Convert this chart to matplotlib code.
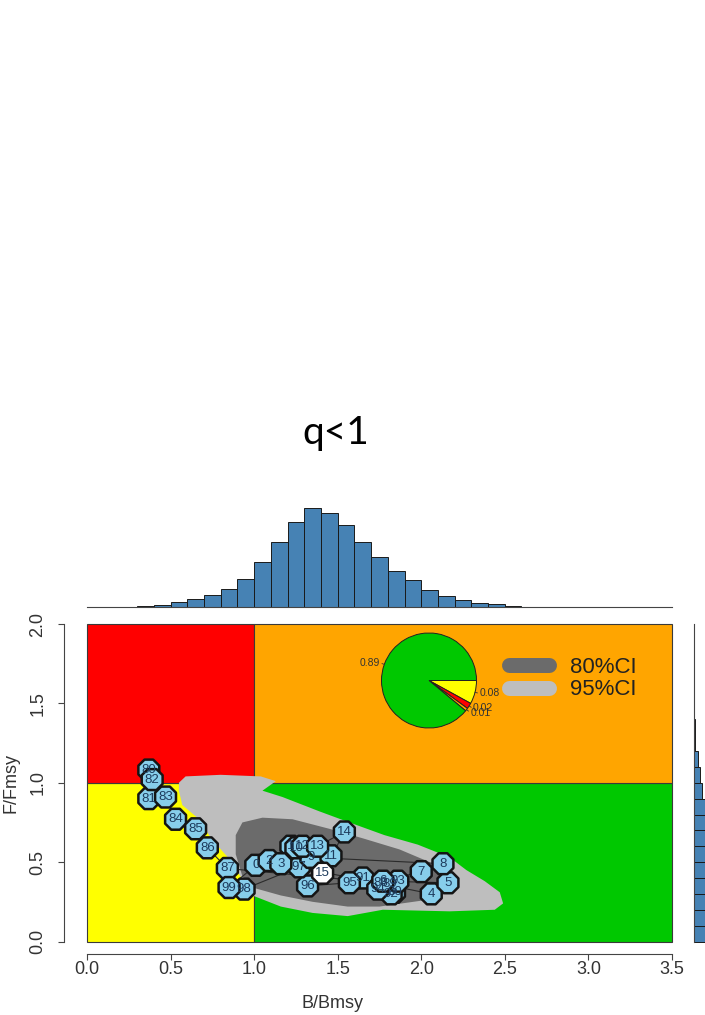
import matplotlib.pyplot as plt
from matplotlib.lines import Line2D
import numpy as np

plt.rcParams["font.family"] = ["Liberation Sans", "DejaVu Sans"]

# Kobe zones (B/Bmsy, F/Fmsy)
zone_b_left = [0, 0, 1, 1]
zone_b_width = [1, 1, 2.5, 2.5]
zone_f_bottom = [0, 1, 0, 1]
zone_f_height = [1, 1, 1, 1]
zone_colors = ["#FFFF00", "#FF0000", "#00C800", "#FFA500"]

# confidence regions
ci95_b = [0.55, 0.59, 0.80, 1.04, 1.13, 1.05, 1.17, 1.39, 1.57, 1.78, 1.98, 2.17, 2.27, 2.38,
          2.47, 2.49, 2.44, 2.17, 1.77, 1.56, 1.35, 1.16, 0.99, 0.93, 0.86, 0.75, 0.66, 0.57, 0.55]
ci95_f = [1.00, 1.04, 1.05, 1.04, 1.01, 0.95, 0.91, 0.82, 0.75, 0.67, 0.61, 0.53, 0.45, 0.38,
          0.31, 0.24, 0.20, 0.19, 0.20, 0.16, 0.18, 0.22, 0.29, 0.39, 0.51, 0.64, 0.78, 0.86, 0.95]
ci80_b = [0.93, 1.05, 1.23, 1.45, 1.65, 1.87, 2.05, 2.11, 2.10, 2.02, 1.75, 1.56, 1.35, 1.16,
          0.99, 0.93, 0.89, 0.89]
ci80_f = [0.75, 0.78, 0.77, 0.71, 0.65, 0.58, 0.50, 0.42, 0.32, 0.26, 0.22, 0.22, 0.25, 0.29,
          0.34, 0.41, 0.55, 0.67]
ci_labels = ["80%CI", "95%CI"]
ci_colors = ["#6B6B6B", "#BEBEBE"]

# stock trajectory 1980-2015
year_labels = ["80", "81", "82", "83", "84", "85", "86", "87", "88", "89",
               "90", "91", "92", "93", "94", "95", "96", "97", "98", "99",
               "0", "1", "2", "3", "4", "5", "6", "7", "8", "9",
               "10", "11", "12", "13", "14", "15"]
traj_b = [0.37, 0.37, 0.39, 0.47, 0.53, 0.65, 0.72, 0.84, 1.76, 1.81,
          1.84, 1.65, 1.82, 1.86, 1.74, 1.57, 1.32, 1.27, 0.94, 0.85,
          1.01, 1.22, 1.09, 1.16, 2.06, 2.16, 1.77, 2.00, 2.13, 1.34,
          1.25, 1.46, 1.29, 1.38, 1.54, 1.41]
traj_f = [1.08, 0.90, 1.02, 0.91, 0.77, 0.71, 0.59, 0.46, 0.37, 0.36,
          0.31, 0.40, 0.30, 0.38, 0.33, 0.37, 0.35, 0.47, 0.33, 0.34,
          0.48, 0.60, 0.51, 0.49, 0.30, 0.37, 0.38, 0.44, 0.49, 0.53,
          0.59, 0.54, 0.60, 0.60, 0.69, 0.43]

# probability of final year in each quadrant
pie_vals = [0.08, 0.02, 0.01, 0.89]
pie_colors = ["#FFFF00", "#FF0000", "#FFA500", "#00C800"]

# marginal posteriors
hist_b_left = [0.3, 0.4, 0.5, 0.6, 0.7, 0.8, 0.9, 1.0, 1.1, 1.2, 1.3, 1.4, 1.5, 1.6,
               1.7, 1.8, 1.9, 2.0, 2.1, 2.2, 2.3, 2.4, 2.5]
hist_b_counts = [3, 6, 13, 24, 36, 53, 82, 135, 195, 255, 295, 282, 245, 195,
                 148, 107, 80, 50, 33, 20, 10, 8, 3]
hist_f_bottom = [0.0, 0.1, 0.2, 0.3, 0.4, 0.5, 0.6, 0.7, 0.8, 0.9, 1.0, 1.1, 1.2, 1.3, 1.4]
hist_f_counts = [40, 120, 220, 290, 280, 230, 170, 110, 65, 24, 18, 12, 4, 2, 1]

x_ticks = [0.0, 0.5, 1.0, 1.5, 2.0, 2.5, 3.0, 3.5]
y_ticks = [0.0, 0.5, 1.0, 1.5, 2.0]

W, H = 705, 1015
fig = plt.figure(figsize=(W / 100, H / 100), dpi=100)
main_rect = [63.6 / W, (H - 954.2) / H, 631.7 / W, 342.9 / H]

# main kobe plot
ax = fig.add_axes(main_rect)
ax.bar(zone_b_left, zone_f_height, width=zone_b_width, bottom=zone_f_bottom, align="edge",
       color=zone_colors, edgecolor="#3a3a3a", linewidth=0.8, zorder=1)
ax.fill(ci95_b, ci95_f, color=ci_colors[1], lw=0, zorder=2)
ax.fill(ci80_b, ci80_f, color=ci_colors[0], lw=0, zorder=3)
ax.plot(traj_b, traj_f, color="#2b2b2b", lw=0.8, zorder=4)
pt_colors = ["#87CEEB"] * (len(traj_b) - 1) + ["white"]
ax.scatter(traj_b, traj_f, s=265, marker="8", c=pt_colors, edgecolors="#151515",
           linewidths=1.8, zorder=5)
for b, f, lab in zip(traj_b, traj_f, year_labels):
    ax.text(b, f, lab, fontsize=9.5, ha="center", va="center", color="#1d3b5c", zorder=6)

ax.set_xlim(-0.14, 3.64)
ax.set_ylim(-0.08, 2.08)
ax.set_xticks(x_ticks)
ax.set_xticklabels([f"{t:.1f}" for t in x_ticks])
ax.set_yticks(y_ticks)
ax.set_yticklabels([f"{t:.1f}" for t in y_ticks], rotation=90, va="center")
ax.tick_params(length=4, width=0.8, color="#444444", labelsize=13, labelcolor="#333333")
ax.tick_params(axis="x", pad=1)
ax.tick_params(axis="y", pad=8.5)
for s in ["top", "right"]:
    ax.spines[s].set_visible(False)
ax.spines["left"].set_bounds(0, 2)
ax.spines["bottom"].set_bounds(0, 3.5)
for s in ["left", "bottom"]:
    ax.spines[s].set_color("#444444")
    ax.spines[s].set_linewidth(0.8)
ax.set_xlabel("B/Bmsy", fontsize=13, color="#333333")
ax.set_ylabel("F/Fmsy", fontsize=13, color="#333333")
ax.xaxis.set_label_coords(0.4249, -0.119)
ax.yaxis.set_label_coords(-0.0706, 0.5)

handles = [Line2D([], [], color=c, lw=10.8, solid_capstyle="round") for c in ci_colors]
leg = ax.legend(handles, ci_labels, loc="upper left", bbox_to_anchor=(0.7054, 0.866),
                fontsize=16, frameon=False, handlelength=1.8, handletextpad=0.95,
                labelspacing=0.05, borderpad=0, borderaxespad=0)
for t in leg.get_texts():
    t.set_color("#222222")

# pie of final-year status
r_px, cx, cy = 47.5 * 1.05, 429, 680.5
ax_pie = fig.add_axes([(cx - r_px) / W, (H - cy - r_px) / H, 2 * r_px / W, 2 * r_px / H])
wedges, texts = ax_pie.pie(pie_vals, colors=pie_colors, labels=[f"{v:.2f}" for v in pie_vals],
                           startangle=0, counterclock=False, labeldistance=1.1,
                           wedgeprops=dict(edgecolor="#222222", linewidth=0.7),
                           textprops=dict(fontsize=7.5, color="#333333"))
for w in wedges:
    a = np.deg2rad((w.theta1 + w.theta2) / 2)
    ax_pie.plot([np.cos(a), 1.05 * np.cos(a)], [np.sin(a), 1.05 * np.sin(a)],
                color="#333333", lw=0.6)
ax_pie.set_xlim(-1.05, 1.05)
ax_pie.set_ylim(-1.05, 1.05)
ax_pie.set_aspect("equal")
ax_pie.axis("off")

# top marginal: B/Bmsy
ax_top = fig.add_axes([main_rect[0], (H - 606.7) / H, main_rect[2], 106.7 / H])
ax_top.bar(hist_b_left, hist_b_counts, width=0.1, align="edge", color="#4682B4",
           edgecolor="#1a1a1a", linewidth=0.7)
ax_top.set_xlim(-0.14, 3.64)
ax_top.set_ylim(0, 320)
ax_top.set_xticks([])
ax_top.set_yticks([])
for s in ["top", "right", "left"]:
    ax_top.spines[s].set_visible(False)
ax_top.spines["bottom"].set_bounds(0, 3.5)
ax_top.spines["bottom"].set_color("#444444")
ax_top.patch.set_alpha(0)

# right marginal: F/Fmsy (cut by the figure edge)
ax_r = fig.add_axes([694 / W, main_rect[1], 106.7 / W, main_rect[3]])
ax_r.barh(hist_f_bottom, hist_f_counts, height=0.1, align="edge", color="#4682B4",
          edgecolor="#1a1a1a", linewidth=0.7)
ax_r.set_ylim(-0.08, 2.08)
ax_r.set_xlim(0, 320)
ax_r.set_xticks([])
ax_r.set_yticks([])
for s in ["top", "right", "bottom"]:
    ax_r.spines[s].set_visible(False)
ax_r.spines["left"].set_bounds(0, 2)
ax_r.spines["left"].set_color("#444444")
ax_r.patch.set_alpha(0)

fig.text(336 / W, 1 - 433 / H, "q<1", fontsize=28, family=["Lato", "DejaVu Sans"],
         ha="center", va="center", color="black")

fig.savefig("out.png", dpi=100)
